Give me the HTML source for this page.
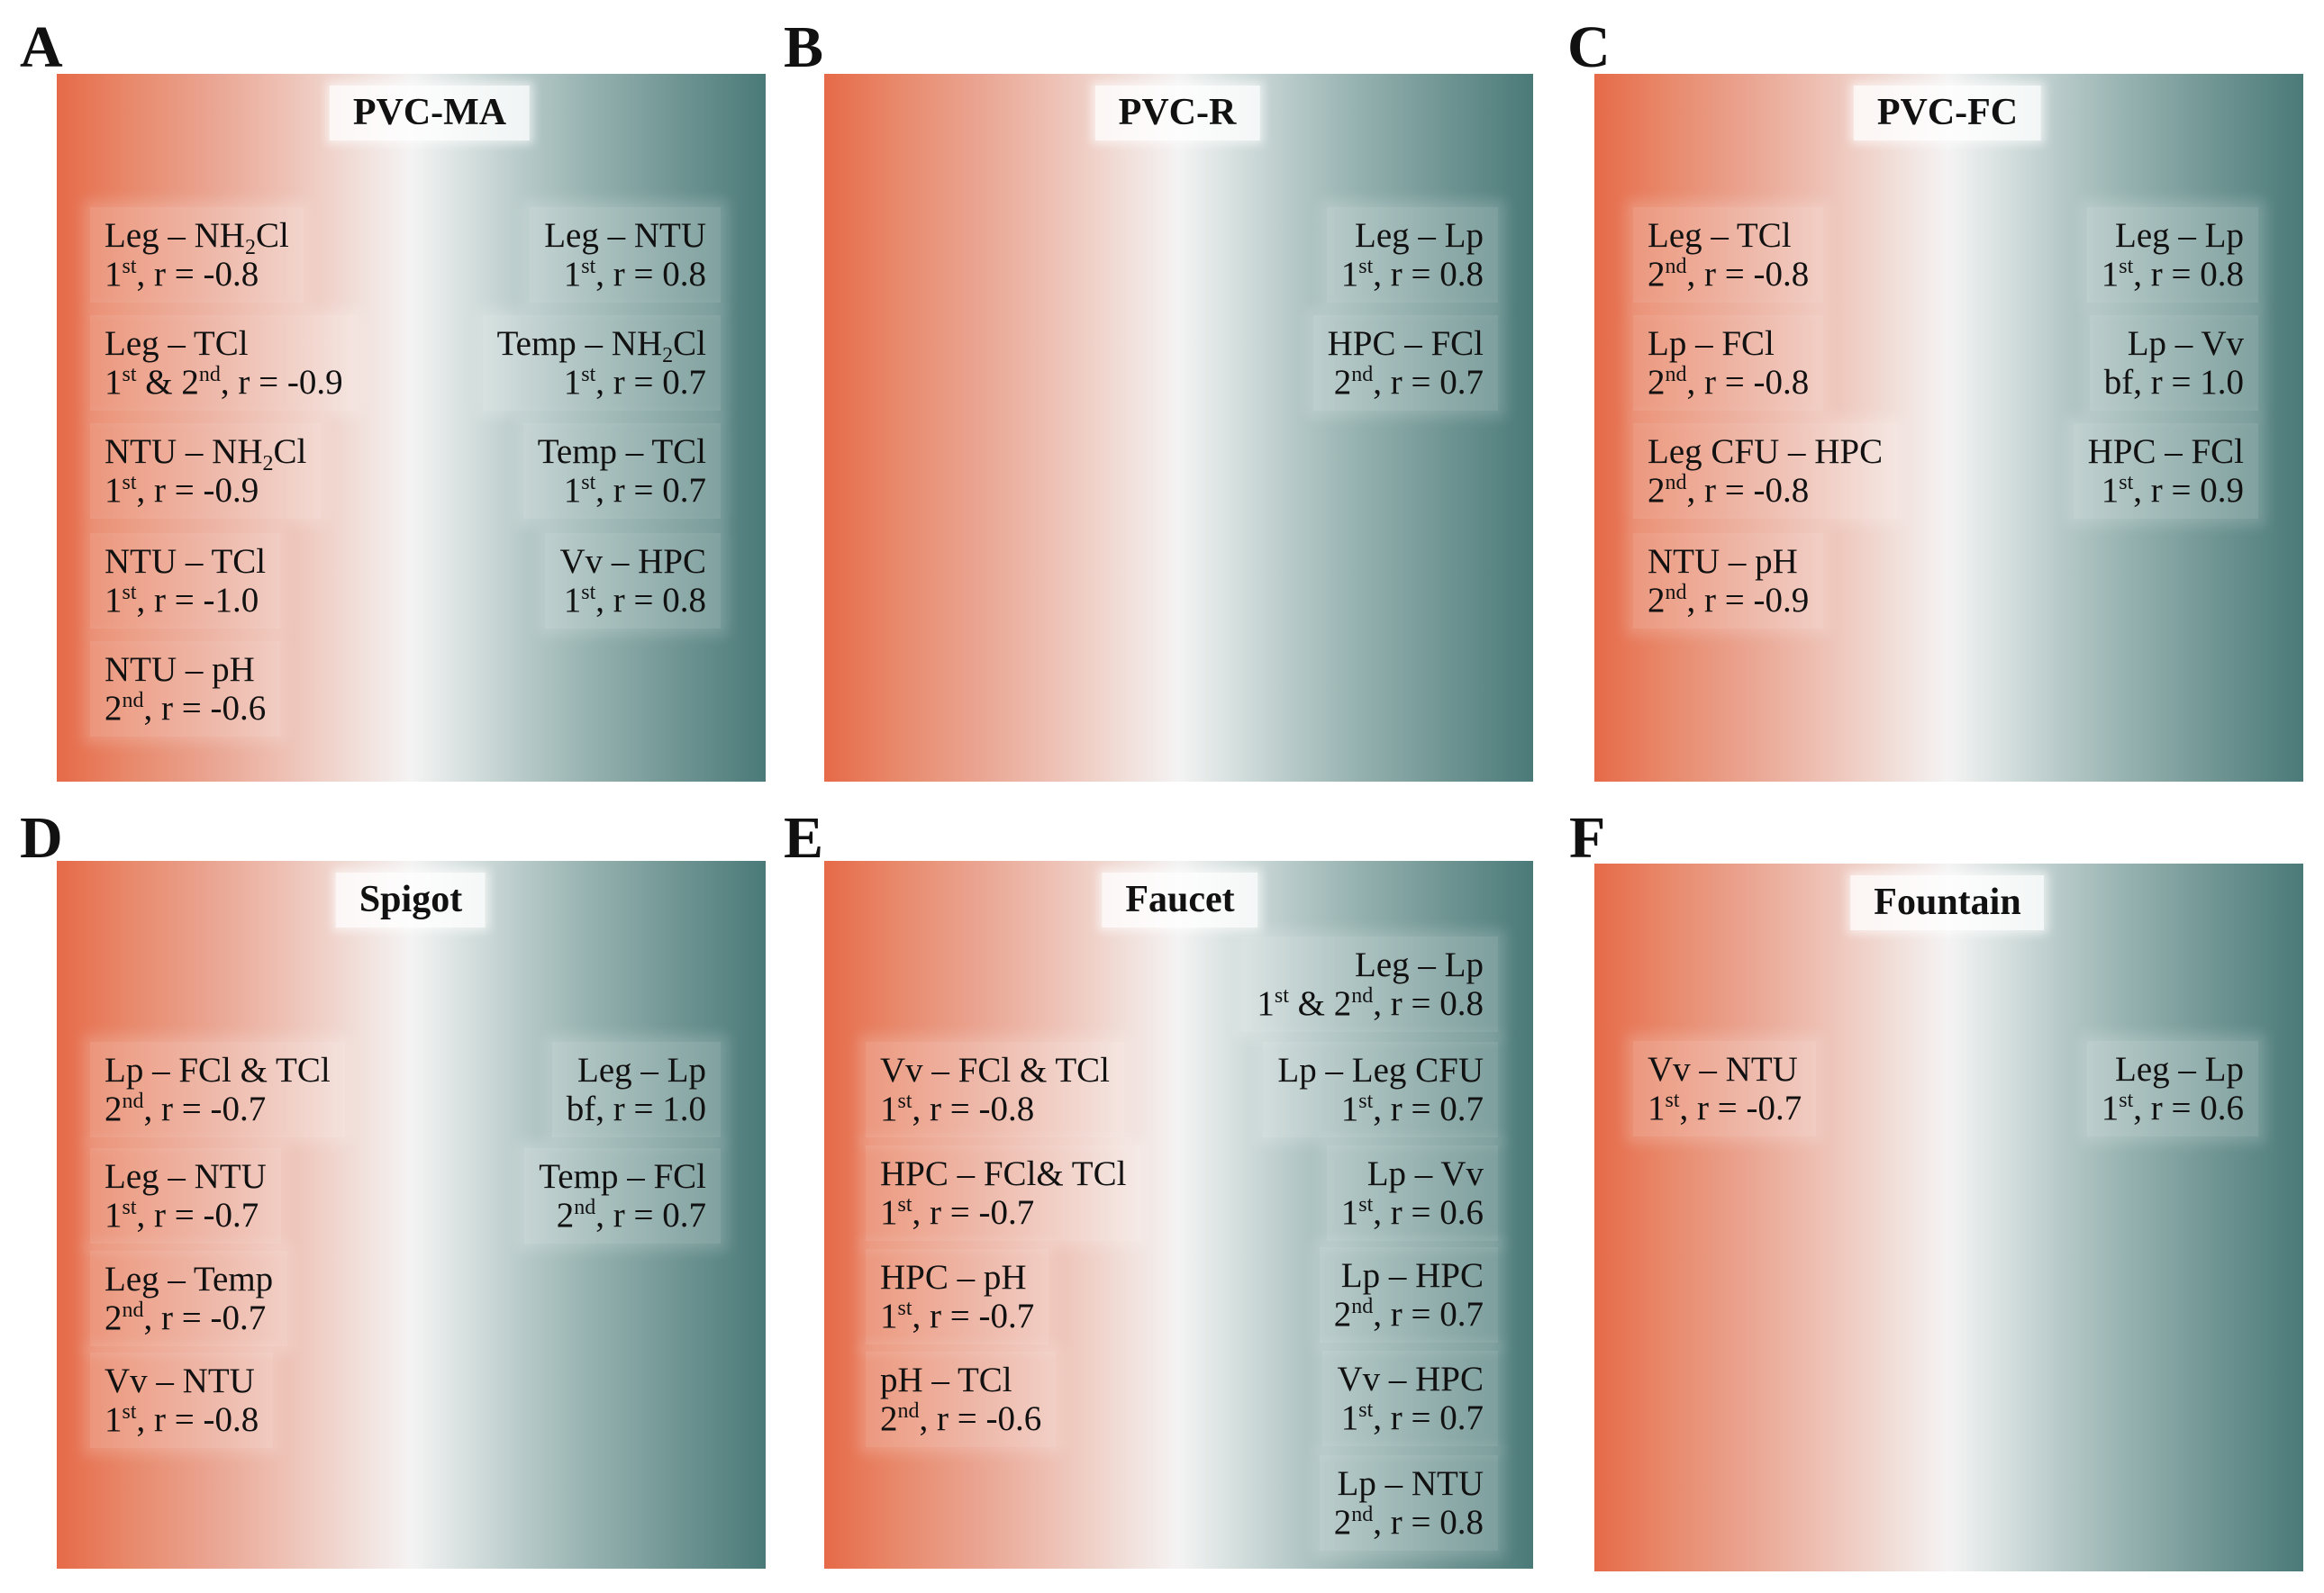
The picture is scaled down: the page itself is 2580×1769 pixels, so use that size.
<!DOCTYPE html>
<html><head><meta charset="utf-8">
<style>
html,body{margin:0;padding:0;background:#fff;}
body{width:2580px;height:1769px;position:relative;overflow:hidden;font-family:"Liberation Serif",serif;color:#111;}
.lbl{position:absolute;font-weight:bold;font-size:66px;line-height:1;}
.panel{position:absolute;width:787px;height:786px;
background:linear-gradient(to right,#e66a48 0%,#e8886a 10%,#eaa592 22%,#eec3b7 33%,#f1e0db 43%,#f4f3f3 50%,#d9e2e1 57%,#b6c9c8 66%,#93b0ae 76%,#6e9492 88%,#4a7a78 100%);}
.title{position:absolute;top:13px;height:61px;font-weight:bold;font-size:42px;line-height:61px;padding:0 26px;background:rgba(255,255,255,0.8);box-shadow:0 0 10px 4px rgba(255,255,255,0.6);transform:translateX(-50%);white-space:nowrap;}
.item{position:absolute;font-size:39px;line-height:43px;padding:10px 16px;background:rgba(255,255,255,0.22);box-shadow:0 0 14px 8px rgba(255,255,255,0.18);white-space:nowrap;}
.item.r{text-align:right;}
sup{font-size:24px;vertical-align:14px;line-height:0;}
sub{font-size:24px;vertical-align:-8px;line-height:0;}
</style></head><body>

<div class="lbl" style="left:22px;top:20px;">A</div>
<div class="lbl" style="left:870px;top:20px;">B</div>
<div class="lbl" style="left:1740px;top:20px;">C</div>
<div class="lbl" style="left:22px;top:898px;">D</div>
<div class="lbl" style="left:870px;top:898px;">E</div>
<div class="lbl" style="left:1742px;top:898px;">F</div>

<!-- A -->
<div class="panel" style="left:63px;top:82px;">
  <div class="title" style="left:414px;">PVC-MA</div>
  <div class="item" style="left:37px;top:148px;">Leg – NH<sub>2</sub>Cl<br>1<sup>st</sup>, r = -0.8</div>
  <div class="item" style="left:37px;top:268px;">Leg – TCl<br>1<sup>st</sup> &amp; 2<sup>nd</sup>, r = -0.9</div>
  <div class="item" style="left:37px;top:388px;">NTU – NH<sub>2</sub>Cl<br>1<sup>st</sup>, r = -0.9</div>
  <div class="item" style="left:37px;top:510px;">NTU – TCl<br>1<sup>st</sup>, r = -1.0</div>
  <div class="item" style="left:37px;top:630px;">NTU – pH<br>2<sup>nd</sup>, r = -0.6</div>
  <div class="item r" style="right:50px;top:148px;">Leg – NTU<br>1<sup>st</sup>, r = 0.8</div>
  <div class="item r" style="right:50px;top:268px;">Temp – NH<sub>2</sub>Cl<br>1<sup>st</sup>, r = 0.7</div>
  <div class="item r" style="right:50px;top:388px;">Temp – TCl<br>1<sup>st</sup>, r = 0.7</div>
  <div class="item r" style="right:50px;top:510px;">Vv – HPC<br>1<sup>st</sup>, r = 0.8</div>
</div>

<!-- B -->
<div class="panel" style="left:915px;top:82px;">
  <div class="title" style="left:392px;">PVC-R</div>
  <div class="item r" style="right:39px;top:148px;">Leg – Lp<br>1<sup>st</sup>, r = 0.8</div>
  <div class="item r" style="right:39px;top:268px;">HPC – FCl<br>2<sup>nd</sup>, r = 0.7</div>
</div>

<!-- C -->
<div class="panel" style="left:1770px;top:82px;">
  <div class="title" style="left:392px;">PVC-FC</div>
  <div class="item" style="left:43px;top:148px;">Leg – TCl<br>2<sup>nd</sup>, r = -0.8</div>
  <div class="item" style="left:43px;top:268px;">Lp – FCl<br>2<sup>nd</sup>, r = -0.8</div>
  <div class="item" style="left:43px;top:388px;">Leg CFU – HPC<br>2<sup>nd</sup>, r = -0.8</div>
  <div class="item" style="left:43px;top:510px;">NTU – pH<br>2<sup>nd</sup>, r = -0.9</div>
  <div class="item r" style="right:50px;top:148px;">Leg – Lp<br>1<sup>st</sup>, r = 0.8</div>
  <div class="item r" style="right:50px;top:268px;">Lp – Vv<br>bf, r = 1.0</div>
  <div class="item r" style="right:50px;top:388px;">HPC – FCl<br>1<sup>st</sup>, r = 0.9</div>
</div>

<!-- D -->
<div class="panel" style="left:63px;top:956px;">
  <div class="title" style="left:393px;">Spigot</div>
  <div class="item" style="left:37px;top:201px;">Lp – FCl &amp; TCl<br>2<sup>nd</sup>, r = -0.7</div>
  <div class="item" style="left:37px;top:319px;">Leg – NTU<br>1<sup>st</sup>, r = -0.7</div>
  <div class="item" style="left:37px;top:433px;">Leg – Temp<br>2<sup>nd</sup>, r = -0.7</div>
  <div class="item" style="left:37px;top:546px;">Vv – NTU<br>1<sup>st</sup>, r = -0.8</div>
  <div class="item r" style="right:50px;top:201px;">Leg – Lp<br>bf, r = 1.0</div>
  <div class="item r" style="right:50px;top:319px;">Temp – FCl<br>2<sup>nd</sup>, r = 0.7</div>
</div>

<!-- E -->
<div class="panel" style="left:915px;top:956px;">
  <div class="title" style="left:395px;">Faucet</div>
  <div class="item" style="left:46px;top:201px;">Vv – FCl &amp; TCl<br>1<sup>st</sup>, r = -0.8</div>
  <div class="item" style="left:46px;top:316px;">HPC – FCl&amp; TCl<br>1<sup>st</sup>, r = -0.7</div>
  <div class="item" style="left:46px;top:431px;">HPC – pH<br>1<sup>st</sup>, r = -0.7</div>
  <div class="item" style="left:46px;top:545px;">pH – TCl<br>2<sup>nd</sup>, r = -0.6</div>
  <div class="item r" style="right:39px;top:84px;">Leg – Lp<br>1<sup>st</sup> &amp; 2<sup>nd</sup>, r = 0.8</div>
  <div class="item r" style="right:39px;top:201px;">Lp – Leg CFU<br>1<sup>st</sup>, r = 0.7</div>
  <div class="item r" style="right:39px;top:316px;">Lp – Vv<br>1<sup>st</sup>, r = 0.6</div>
  <div class="item r" style="right:39px;top:429px;">Lp – HPC<br>2<sup>nd</sup>, r = 0.7</div>
  <div class="item r" style="right:39px;top:544px;">Vv – HPC<br>1<sup>st</sup>, r = 0.7</div>
  <div class="item r" style="right:39px;top:660px;">Lp – NTU<br>2<sup>nd</sup>, r = 0.8</div>
</div>

<!-- F -->
<div class="panel" style="left:1770px;top:959px;">
  <div class="title" style="left:392px;">Fountain</div>
  <div class="item" style="left:43px;top:197px;">Vv – NTU<br>1<sup>st</sup>, r = -0.7</div>
  <div class="item r" style="right:50px;top:197px;">Leg – Lp<br>1<sup>st</sup>, r = 0.6</div>
</div>

</body></html>
